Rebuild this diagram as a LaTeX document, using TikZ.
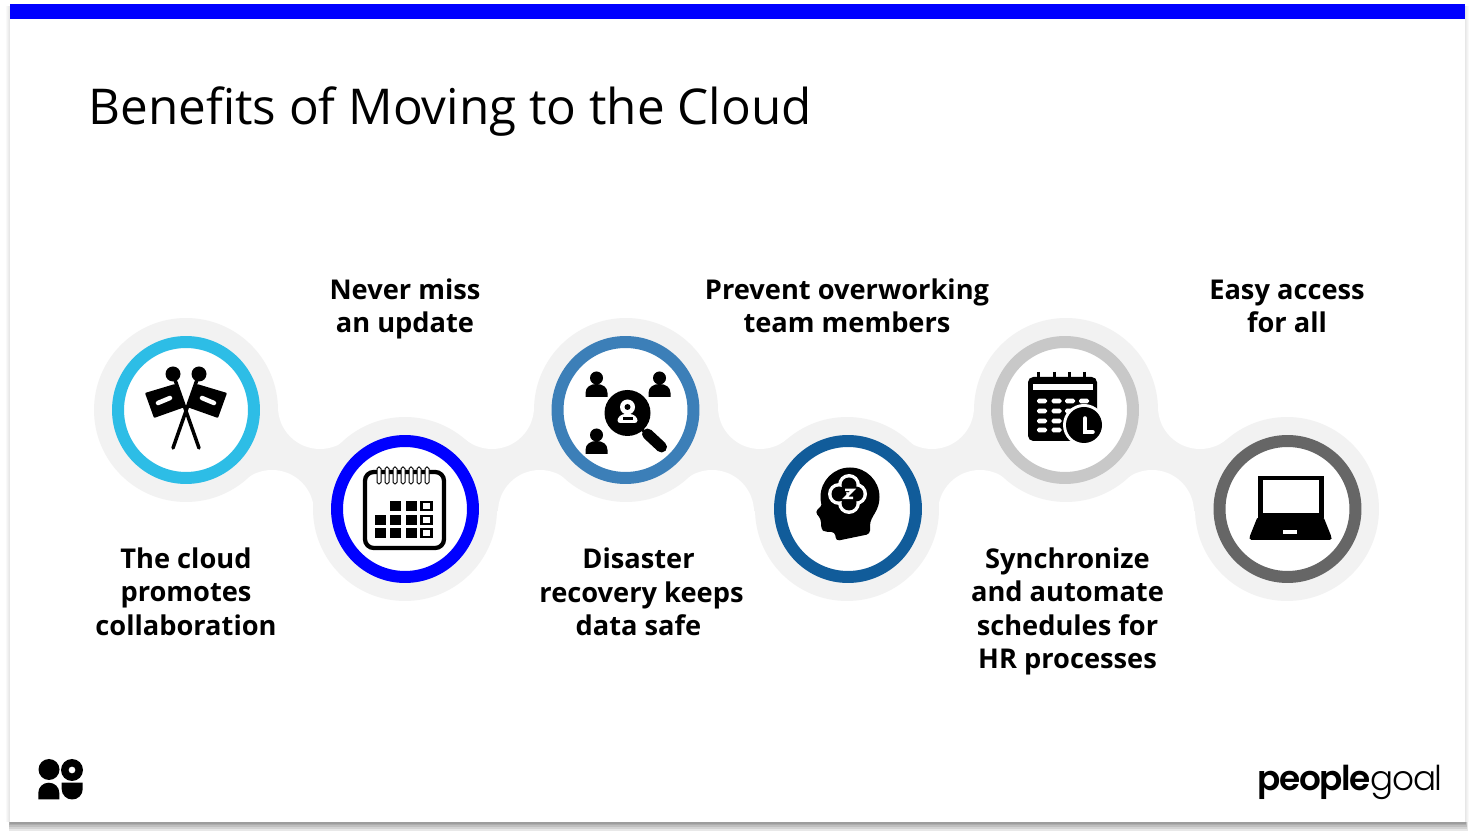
\documentclass[tikz,border=0pt]{standalone}
\usepackage{fontspec}
\setmainfont{Open Sans}
\newfontfamily\goalbold{Poppins}[UprightFont=* SemiBold,LetterSpace=-4]
\newfontfamily\goallight{Poppins}[UprightFont=* Light,LetterSpace=-4]
\definecolor{barblue}{HTML}{0000FF}
\definecolor{spotgray}{HTML}{F2F2F2}
\definecolor{ringcyan}{HTML}{2DBDE6}
\definecolor{ringsteel}{HTML}{3C7FB8}
\definecolor{ringnavy}{HTML}{115C9A}
\definecolor{ringsilver}{HTML}{C8C8C8}
\definecolor{ringdark}{HTML}{666666}
\tikzset{
  spot/.style={circle,fill=spotgray,minimum size=3.68cm,inner sep=0pt},
  hub/.style={circle,fill=white,line width=0.24cm,minimum size=2.72cm,inner sep=0pt},
  caption/.style={align=center,font=\bfseries\fontsize{15.5}{19}\selectfont,inner sep=0pt},
  thinwhite/.style={white,line width=0.07cm,line cap=round},
}
\newcommand\personmark[2]{
  \fill (#1,#2) circle[radius=6.5];
  \fill (#1-11,#2+19)--(#1-11,#2+15) .. controls (#1-11,#2+9) and (#1-6,#2+6) .. (#1,#2+6)
    .. controls (#1+6,#2+6) and (#1+11,#2+9) .. (#1+11,#2+15)--(#1+11,#2+19)--cycle;
}
\begin{document}
\begin{tikzpicture}[x=0.02cm,y=-0.02cm]
\useasboundingbox (0,0) rectangle (1475,837);
\fill[white] (0,0) rectangle (1475,837);
\foreach \i in {1,...,4}
  \fill[black,opacity=0.025] ({10-\i},6) rectangle ({1465+\i},822);
\foreach \i in {1,...,5}
  \fill[black,opacity=0.09] ({10-\i*0.3},822) rectangle ({1465+\i*0.5},{822+\i*1.7});
\fill[white] (10,4) rectangle (1465,822);
\fill[barblue] (10,4) rectangle (1465,19);
\node[anchor=west,inner sep=0pt,font=\fontsize{28.1}{34}\selectfont] (title) at (88,112) {Benefits of Moving to the Cloud};
\foreach \hx/\s/\lx in {186/1/405,626/-1/405,626/1/847,1066/-1/847,1066/1/1287}{
  \fill[spotgray] (\hx,410)--({\hx+\s*134},407)--(\lx,509)--({\hx+\s*86},512)--cycle;
  \fill[white] ({\hx+\s*134},407) circle[radius=42];
  \fill[white] ({\hx+\s*86},512) circle[radius=42];
}
\foreach \x/\y in {186/410,405/509,626/410,847/509,1066/410,1287/509}
  \node[spot] at (\x,\y) {};
\node[hub,draw=ringcyan] (flags) at (186,410) {};
\node[hub,draw=barblue] (planner) at (405,509) {};
\node[hub,draw=ringsteel] (search) at (625.5,410) {};
\node[hub,draw=ringnavy] (head) at (848,509) {};
\node[hub,draw=ringsilver] (schedule) at (1065,410) {};
\node[hub,draw=ringdark] (laptop) at (1287.5,509) {};
\begin{scope}[shift={(flags.center)}]
\foreach \m in {1,-1}{
  \begin{scope}[xscale=\m]
  \fill (-13,-36) circle[radius=7.5];
  \draw[line width=0.07cm,line cap=round] (-13,-36)--(13,38);
  \fill[rounded corners=0.5pt] (-41,-17)--(-11,-26)--(-1,-3)--(-32,8)--cycle;
  \draw[white,line width=0.09cm,line cap=round] (-28,-7)--(-16,-12);
  \end{scope}
}
\end{scope}
\begin{scope}[shift={(planner.center)}]
\draw[line width=0.085cm,rounded corners=5pt] (-40,-37) rectangle (39,39);
\foreach \x in {-26,-18,...,22}
  \draw[fill=white,line width=0.02cm,rounded corners=1pt] (\x-2,-42) rectangle (\x+2,-25);
\foreach \x/\y in {-10/-3,6/-3,-25/11,-10/11,6/11,-25/24,-10/24,6/24}
  \fill (\x-5.5,\y-5) rectangle (\x+5.5,\y+5);
\foreach \y in {-3,11,24}
  \draw[line width=0.05cm] (16.5,\y-4) rectangle (26.5,\y+4);
\end{scope}
\begin{scope}[shift={(search.center)}]
\personmark{-29}{-32}
\personmark{34}{-32}
\personmark{-29}{25}
\fill (2,3) circle[radius=23];
\draw[line width=0.06cm] (15,18)--(22,25);
\draw[line width=0.22cm,line cap=round] (22,24)--(36,37);
\fill[white] (2,-3) circle[radius=7.5];
\fill (2,-3) circle[radius=3];
\fill[white,rounded corners=1.5pt] (-8,13)--(-8,8)--(-3,4)--(7,4)--(12,8)--(12,13)--cycle;
\fill (-3,10) rectangle (7,7);
\end{scope}
\begin{scope}[shift={(head.center)}]
\fill (2,-12) circle[radius=29.5];
\fill[rounded corners=2pt] (-27,-14)--(-25,-5)--(-33,3)--(-27,10)--(-27,20)--(-23,23)--(-13,23)--(-12,32)--(22,25)--(22,13)--(30,-2)--cycle;
\foreach \x/\y in {1/-24,8/-15,1/-6,-9/-15} \fill[white] (\x,\y) circle[radius=11];
\foreach \x/\y in {1/-24,8/-15,1/-6,-9/-15} \fill (\x,\y) circle[radius=7.5];
\draw[white,line width=0.05cm] (-3,-19)--(5,-19)--(-3,-11)--(5,-11);
\end{scope}
\begin{scope}[shift={(schedule.center)}]
\fill[rounded corners=3pt] (-37,-33) rectangle (32,31);
\foreach \x in {-27,-11,4,19} \draw[line width=0.06cm] (\x,-38)--(\x,-25);
\fill[white] (-32,-26) rectangle (28,-20);
\foreach \x in {-23,-8.5,5,19}
  \foreach \y in {-9,1,11,20}
    \fill[white,rounded corners=1pt] (\x-5,\y-2.3) rectangle (\x+5,\y+2.3);
\fill[white] (19,15) circle[radius=21];
\fill (19,15) circle[radius=18];
\draw[thinwhite] (20,8)--(20,22)--(28,22);
\end{scope}
\begin{scope}[shift={(laptop.center)}]
\fill (-30,-33) rectangle (36,9);
\fill[white] (-25,-29) rectangle (31,4);
\fill[rounded corners=1pt] (-30,8)--(36,8)--(44,28)--(44,31)--(-38,31)--(-38,28)--cycle;
\fill[white] (-5,21) rectangle (9,25);
\end{scope}
\node[caption] (collab) at (186,591.5) {The cloud\\promotes\\collaboration};
\node[caption] (update) at (405,309) {Never miss\\an update};
\node[caption] (recovery) at (641.5,592) {\mbox{Disaster\kern0.12cm}\\recovery keeps\\\mbox{data safe\kern0.12cm}};
\node[caption] (overwork) at (847,306) {Prevent overworking\\team members};
\node[caption] (sync) at (1067.5,611.5) {Synchronize\\and automate\\schedules for\\HR processes};
\node[caption] (access) at (1287,306.5) {Easy access\\for all};
\fill (49,769.5) circle[radius=10.5];
\fill[even odd rule] (72,770) circle[radius=11] (72,770) circle[radius=3.5];
\fill (38.3,799.5)--(38.3,793) .. controls (38.3,787) and (43,782.7) .. (48.8,782.7) .. controls (54.6,782.7) and (59.3,787) .. (59.3,793)--(59.3,799.5)--cycle;
\fill (61.7,782.7)--(82.7,782.7)--(82.7,789) .. controls (82.7,795) and (78,799.5) .. (72.2,799.5) .. controls (66.4,799.5) and (61.7,795) .. (61.7,789)--cycle;
\node[anchor=base east,inner sep=0pt,font=\fontsize{19.5}{24}\selectfont] (brand) at (1443,790.5) {{\goalbold people}{\goallight goal}};
\end{tikzpicture}
\end{document}
